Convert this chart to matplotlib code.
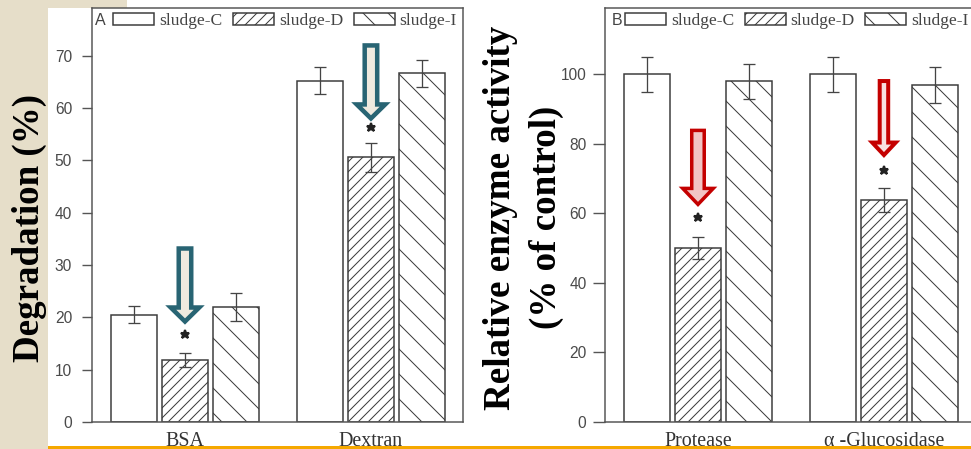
import matplotlib
matplotlib.use("Agg")
import matplotlib.pyplot as plt
import matplotlib.patches as mpatches
import matplotlib.transforms as mtransforms
import numpy as np

# ---------------- data ----------------
series = ["sludge-C", "sludge-D", "sludge-I"]

substrates = ["BSA", "Dextran"]
degr_c = [20.5, 65.2]
degr_c_err = [1.65, 2.55]
degr_d = [11.9, 50.6]
degr_d_err = [1.35, 2.8]
degr_i = [22.0, 66.6]
degr_i_err = [2.7, 2.6]
degr_star = [16.8, 56.3]      # significance marks above sludge-D
degr_arrow = [18.9, 57.7]     # arrow tips pointing at sludge-D

enzymes = ["Protease", "α -Glucosidase"]
act_c = [100, 100]
act_c_err = [5.1, 5.1]
act_d = [50, 64]
act_d_err = [3.1, 3.45]
act_i = [98, 97]
act_i_err = [5.0, 5.1]
act_star = [58.9, 72.5]
act_arrow = [62.4, 76.6]

# ---------------- style ----------------
DPI = 150
W, H = 971, 449
PT = 72.0 / DPI               # points per pixel

EDGE = "#3a3a3a"
SPINE = "#555555"
TICKCOL = "#4a4a4a"
BEIGE = "#e6dec9"
ORANGE = "#f5a800"
TEAL = "#286473"
RED = "#c40000"

BAR_W = 0.246
BAR_STEP = 0.274
HATCHES = ["", "/////", "\\\\"]

plt.rcParams["hatch.linewidth"] = 1.0 * PT
plt.rcParams["font.family"] = ["Liberation Serif", "DejaVu Serif"]

fig = plt.figure(figsize=(W / DPI, H / DPI), dpi=DPI)
fig.patch.set_facecolor("white")

# slide background pieces
fig.add_artist(mpatches.Rectangle((0, 0), 48 / W, 1, transform=fig.transFigure,
                                  fc=BEIGE, ec="none", zorder=0))
fig.add_artist(mpatches.Rectangle((0, 1 - 8 / H), 127 / W, 8 / H,
                                  transform=fig.transFigure, fc=BEIGE, ec="none", zorder=0))


def px_rect(left, top, right, bottom):
    return [left / W, 1 - bottom / H, (right - left) / W, (bottom - top) / H]


def down_arrow(ax, x, y_tip, length, shaft_w, head_w, head_len, edge, face, lw):
    """Hollow downward block arrow, sized in pixels, tip anchored at data point."""
    sw, hw = shaft_w / 2, head_w / 2
    verts = np.array([(0, 0), (-hw, head_len), (-sw, head_len), (-sw, length),
                      (sw, length), (sw, head_len), (hw, head_len)]) / DPI
    trans = fig.dpi_scale_trans + mtransforms.ScaledTranslation(x, y_tip, ax.transData)
    poly = mpatches.Polygon(verts, closed=True, transform=trans, fc=face, ec=edge,
                            lw=lw * PT, joinstyle="miter", zorder=6, clip_on=False)
    ax.add_patch(poly)


def panel(ax, groups, vals, errs, ylim, yticks, letter, letter_x, tick_len, tick_pad, legend_x):
    x = np.arange(len(groups))
    offsets = [-BAR_STEP, 0, BAR_STEP]
    handles = []
    for k in range(3):
        b = ax.bar(x + offsets[k], vals[k], BAR_W, yerr=errs[k], color="white",
                   edgecolor=EDGE, hatch=HATCHES[k], lw=1.5 * PT, label=series[k],
                   zorder=2,
                   error_kw=dict(ecolor="#444444", elinewidth=1.3 * PT,
                                 capsize=6 * PT, capthick=1.3 * PT, zorder=3))
        handles.append(b)
    ax.set_xlim(-0.5, 1.495)
    ax.set_ylim(*ylim)
    ax.set_yticks(yticks)
    ax.set_xticks(x)
    ax.set_xticklabels(groups, fontsize=20 * PT, color="#333333",
                       family=["Liberation Serif", "DejaVu Serif"])
    ax.tick_params(axis="x", length=0, pad=9.5 * PT)
    ax.tick_params(axis="y", direction="out", length=tick_len * PT, width=1.4 * PT,
                   color=SPINE, pad=tick_pad * PT, labelsize=15.5 * PT, labelcolor=TICKCOL)
    for lab in ax.get_yticklabels():
        lab.set_family(["Liberation Sans", "DejaVu Sans"])
    for s in ax.spines.values():
        s.set_color(SPINE)
        s.set_linewidth(1.5 * PT)
    fs = 17.5
    ax.legend(handles=handles, loc="center left", bbox_to_anchor=(legend_x, 0.9686),
              ncol=3, frameon=False, fontsize=fs * PT, labelcolor="#444444",
              handlelength=41 / fs, handleheight=12 / fs, handletextpad=5 / fs,
              columnspacing=10.5 / fs, borderpad=0, borderaxespad=0)
    ax.text(letter_x, 0.9686, letter, transform=ax.transAxes, ha="left", va="center",
            fontsize=16 * PT, color="#444444", family=["Liberation Sans", "DejaVu Sans"])
    return x


axA = fig.add_axes(px_rect(92, 8, 463, 422))
xA = panel(axA, substrates, [degr_c, degr_d, degr_i], [degr_c_err, degr_d_err, degr_i_err],
           (0, 79.1), np.arange(0, 71, 10), "A", 0.008, 10, 10, 0.057)
axA.plot(xA, degr_star, ls="none", marker="*", ms=9 * PT, color="#222222", zorder=5)
for xi, yt in zip(xA, degr_arrow):
    down_arrow(axA, xi, yt + 0.3, 73, 12.5, 28.5, 14, TEAL, "#efeadf", 4.5)

axB = fig.add_axes(px_rect(605, 8, 976, 422))
xB = panel(axB, enzymes, [act_c, act_d, act_i], [act_c_err, act_d_err, act_i_err],
           (0, 119.1), np.arange(0, 101, 20), "B", 0.019, 12, 6.5, 0.054)
axB.plot(xB, act_star, ls="none", marker="*", ms=9 * PT, color="#222222", zorder=5)
down_arrow(axB, xB[0], act_arrow[0] + 0.2, 74, 12.5, 30.5, 16, RED, "#f2c4c4", 3.5)
down_arrow(axB, xB[1], act_arrow[1] + 0.2, 74, 8.5, 23.5, 12.5, RED, "#f8e0e0", 4.0)

# y-axis titles
bold = dict(fontsize=37 * PT, fontweight="bold", color="black", rotation=90,
            ha="center", va="center", family=["Liberation Serif", "DejaVu Serif"])
fig.text(29.5 / W, 1 - 228 / H, "Degradation (%)", **bold)
fig.text(500.5 / W, 1 - 217.5 / H, "Relative enzyme activity", **bold)
fig.text(546 / W, 1 - 217 / H, "(% of control)", **bold)

# slide footer rule
fig.add_artist(mpatches.Rectangle((48 / W, 0), 1, 3.5 / H, transform=fig.transFigure,
                                  fc=ORANGE, ec="none", zorder=20))

fig.savefig("out.png", dpi=DPI)
